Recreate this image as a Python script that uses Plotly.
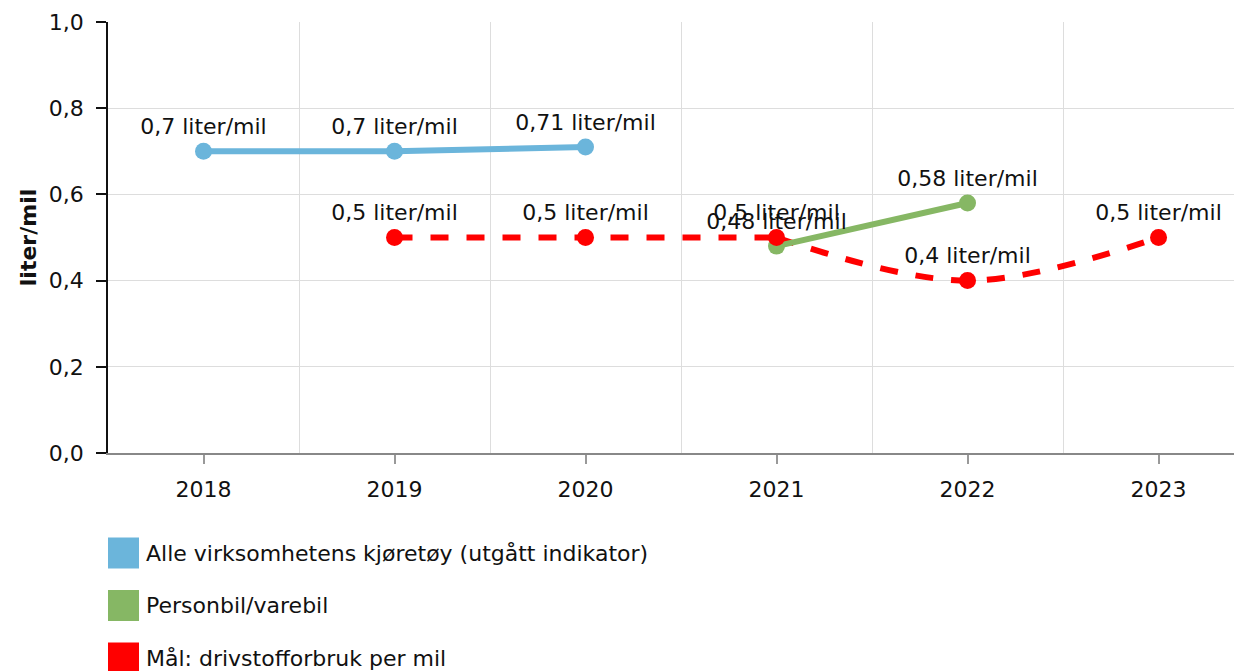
import plotly.graph_objects as go

years = ["2018", "2019", "2020", "2021", "2022", "2023"]

blue_years = ["2018", "2019", "2020"]
blue_vals = [0.70, 0.70, 0.71]
green_years = ["2021", "2022"]
green_vals = [0.48, 0.58]
red_years = ["2019", "2020", "2021", "2022", "2023"]
red_vals = [0.5, 0.5, 0.5, 0.4, 0.5]

names = ["Alle virksomhetens kjøretøy (utgått indikator)", "Personbil/varebil", "Mål: drivstofforbruk per mil"]
colors = ["#6BB5DB", "#86B764", "#FF0000"]
yticks = [0.0, 0.2, 0.4, 0.6, 0.8, 1.0]

FONT = "Verdana, DejaVu Sans, sans-serif"
FS = 22
LW = 6
RED_DASH = "18px,18px"


def lbl(v):
    return f"{v:g}".replace(".", ",") + " liter/mil"


def idx(ys):
    return [years.index(y) for y in ys]


fig = go.Figure()

# red target line: flat part straight, later part smoothed (as in the original spline)
fig.add_trace(go.Scatter(
    x=idx(red_years[:3]), y=red_vals[:3], mode="lines",
    line=dict(color=colors[2], width=LW, dash=RED_DASH),
    showlegend=False, hoverinfo="skip"))
fig.add_trace(go.Scatter(
    x=idx(red_years[2:]), y=red_vals[2:], mode="lines",
    line=dict(color=colors[2], width=LW, dash=RED_DASH, shape="spline", smoothing=1),
    showlegend=False, hoverinfo="skip"))

series = [
    (blue_years, blue_vals, colors[0], "lines+markers+text"),
    (green_years, green_vals, colors[1], "lines+markers+text"),
    (red_years, red_vals, colors[2], "markers+text"),
]
for i, (ys, vs, c, mode) in enumerate(series):
    fig.add_trace(go.Scatter(
        x=idx(ys), y=vs, name=names[i], mode=mode,
        line=dict(color=c, width=LW),
        marker=dict(color=c, size=17),
        text=[lbl(v) for v in vs], textposition="top center",
        textfont=dict(family=FONT, size=FS, color="#111"),
        showlegend=False, cliponaxis=False,
    ))

# page has an 8px body margin; compensate so the plot area lands where the reference has it
OFF = 8
fig.update_layout(
    width=1242, height=671,
    margin=dict(l=108 - OFF, r=OFF, t=22 - OFF, b=671 - (453 - OFF)),
    paper_bgcolor="white", plot_bgcolor="white",
    separators=", ",
    font=dict(family=FONT, size=FS, color="#111"),
    xaxis=dict(
        range=[-0.5, 5.437], tickvals=list(range(len(years))), ticktext=years,
        showgrid=False, showline=True, linecolor="#888", linewidth=1.5,
        ticks="outside", ticklen=9, tickcolor="#999", tickwidth=1.5,
        minor=dict(tickvals=[k + 0.5 for k in range(len(years) - 1)], showgrid=True,
                   gridcolor="#ddd", gridwidth=1, ticks=""),
        zeroline=False, tickfont=dict(size=FS), automargin=False,
        ticklabelstandoff=7,
    ),
    yaxis=dict(
        range=[0, 1], tickvals=yticks, tickformat=".1f",
        showgrid=True, gridcolor="#ddd", gridwidth=1,
        showline=True, linecolor="#111", linewidth=1.5,
        ticks="outside", ticklen=10, tickcolor="#111", tickwidth=1.5,
        zeroline=False, tickfont=dict(size=FS), automargin=False,
        ticklabelstandoff=8,
        title=dict(text="<b>liter/mil</b>", font=dict(size=FS), standoff=6),
    ),
)

# legend drawn manually (square swatches) in pixel-derived paper coordinates
plot_w = 1242 - 108
plot_h = 453 - 22
for i, (n, c) in enumerate(zip(names, colors)):
    yc = 553 + i * 52.5
    y_top = (453 - (yc - 15.5)) / plot_h
    y_bot = (453 - (yc + 15.5)) / plot_h
    fig.add_shape(type="rect", xref="paper", yref="paper",
                  x0=0, x1=31 / plot_w, y0=y_bot, y1=y_top,
                  line=dict(width=0), fillcolor=c)
    fig.add_annotation(xref="paper", yref="paper", x=36 / plot_w, y=(453 - yc) / plot_h,
                       text=n, showarrow=False, xanchor="left", yanchor="middle",
                       font=dict(family=FONT, size=FS, color="#111"))

fig.write_html("out.html")
